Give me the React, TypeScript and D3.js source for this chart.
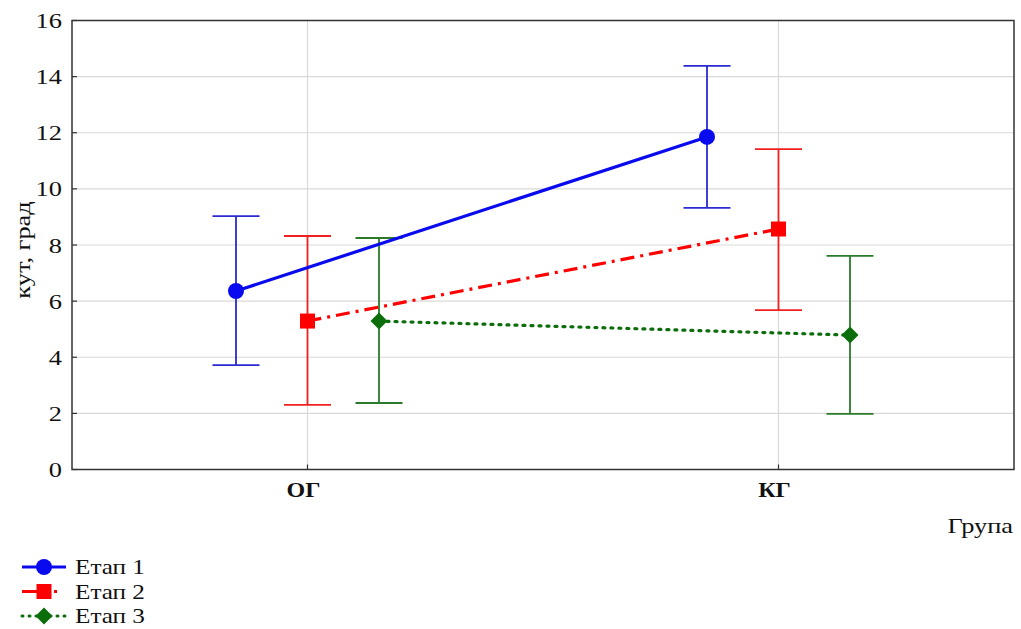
import React from "react";
import * as d3 from "d3";

const groups = ["ОГ", "КГ"];
const stages = ["Етап 1", "Етап 2", "Етап 3"];
const means = [
  [6.36, 11.85],
  [5.29, 8.57],
  [5.29, 4.79],
];
const upper = [
  [9.03, 14.38],
  [8.32, 11.42],
  [8.25, 7.61],
];
const lower = [
  [3.72, 9.32],
  [2.3, 5.68],
  [2.37, 1.98],
];
const yTicks = [0, 2, 4, 6, 8, 10, 12, 14, 16];

const colors = ["#0a0aee", "#ff0000", "#0b6e0b"];
const barColors = ["#2a2ad0", "#f02020", "#2a7a2a"];
const dashes = [null, "14,6,3,6", "2,6"];
const offsets = [-71.5, 0, 71.5];

const W = 1021;
const H = 629;
const left = 72;
const right = 1014;
const top = 20.5;
const bottom = 469.5;
const FONT = "'Liberation Serif', 'Times New Roman', serif";

// Serif text, widened along its baseline
function Txt({
  x,
  y,
  rotate = 0,
  anchor = "start",
  size = 22,
  bold = false,
  children,
}: {
  x: number;
  y: number;
  rotate?: number;
  anchor?: string;
  size?: number;
  bold?: boolean;
  children: React.ReactNode;
}) {
  return (
    <text
      transform={`translate(${x},${y}) rotate(${rotate}) scale(1.2,1)`}
      textAnchor={anchor}
      fontFamily={FONT}
      fontSize={size}
      fontWeight={bold ? "bold" : "normal"}
      fill="#111"
    >
      {children}
    </text>
  );
}

function Marker({ kind, x, y, color }: { kind: number; x: number; y: number; color: string }) {
  if (kind === 0) return <circle cx={x} cy={y} r={8} fill={color} />;
  if (kind === 1) return <rect x={x - 7.5} y={y - 7.5} width={15} height={15} fill={color} />;
  const s = 8.5;
  return <path d={`M${x},${y - s}L${x + s},${y}L${x},${y + s}L${x - s},${y}Z`} fill={color} />;
}

export default function App() {
  const x = d3.scalePoint<string>().domain(groups).range([left, right]).padding(0.5);
  const y = d3.scaleLinear().domain([0, 16]).range([bottom, top]);
  const line = d3.line<[number, number]>().x((d) => d[0]).y((d) => d[1]);

  return (
    <svg width={W} height={H} style={{ position: "absolute", left: 0, top: 0, background: "#fff" }}>
      {/* grid */}
      {yTicks.slice(1, -1).map((t) => (
        <line key={t} x1={left} x2={right} y1={y(t)} y2={y(t)} stroke="#d9d9d9" strokeWidth={1.2} />
      ))}
      {groups.map((g) => (
        <line key={g} x1={x(g)} x2={x(g)} y1={top} y2={bottom} stroke="#d9d9d9" strokeWidth={1.2} />
      ))}
      {/* frame */}
      <rect x={left} y={top} width={right - left} height={bottom - top} fill="none" stroke="#333" strokeWidth={1.5} />
      {/* ticks */}
      {yTicks.map((t) => (
        <g key={t}>
          <line x1={left} x2={left + 5} y1={y(t)} y2={y(t)} stroke="#333" strokeWidth={1.2} />
          <Txt x={62} y={y(t) + 7.5} anchor="end" size={22}>
            {t}
          </Txt>
        </g>
      ))}
      {groups.map((g) => (
        <g key={g}>
          <line x1={x(g)} x2={x(g)} y1={bottom} y2={bottom - 5} stroke="#333" strokeWidth={1.2} />
          <Txt x={(x(g) as number) - 4} y={497} anchor="middle" size={20} bold>
            {g}
          </Txt>
        </g>
      ))}
      <Txt x={30} y={250} rotate={-90} anchor="middle" size={22}>
        кут, град
      </Txt>
      <Txt x={1013} y={533} anchor="end" size={22}>
        Група
      </Txt>
      {/* error bars */}
      {stages.map((s, i) =>
        groups.map((g, j) => {
          const cx = (x(g) as number) + offsets[i];
          return (
            <g key={s + g} stroke={barColors[i]} strokeWidth={1.8}>
              <line x1={cx} x2={cx} y1={y(upper[i][j])} y2={y(lower[i][j])} />
              <line x1={cx - 23.5} x2={cx + 23.5} y1={y(upper[i][j])} y2={y(upper[i][j])} />
              <line x1={cx - 23.5} x2={cx + 23.5} y1={y(lower[i][j])} y2={y(lower[i][j])} />
            </g>
          );
        })
      )}
      {/* mean lines */}
      {stages.map((s, i) => {
        const pts = groups.map((g, j) => [(x(g) as number) + offsets[i], y(means[i][j])] as [number, number]);
        return (
          <path
            key={s}
            d={line(pts) || ""}
            fill="none"
            stroke={colors[i]}
            strokeWidth={3.2}
            strokeDasharray={dashes[i] || undefined}
            strokeLinecap={i === 2 ? "round" : "butt"}
          />
        );
      })}
      {stages.map((s, i) =>
        groups.map((g, j) => (
          <Marker key={s + g} kind={i} x={(x(g) as number) + offsets[i]} y={y(means[i][j])} color={colors[i]} />
        ))
      )}
      {/* legend */}
      {stages.map((s, i) => {
        const ly = 567 + i * 24.5;
        return (
          <g key={s}>
            <line
              x1={22}
              x2={66}
              y1={ly}
              y2={ly}
              stroke={colors[i]}
              strokeWidth={3}
              strokeDasharray={i === 1 ? "22,10,3,10" : i === 2 ? "1,6" : undefined}
              strokeLinecap={i === 2 ? "round" : "butt"}
            />
            <Marker kind={i} x={44} y={ly} color={colors[i]} />
            <Txt x={75} y={ly + 7} size={21}>
              {s}
            </Txt>
          </g>
        );
      })}
    </svg>
  );
}
